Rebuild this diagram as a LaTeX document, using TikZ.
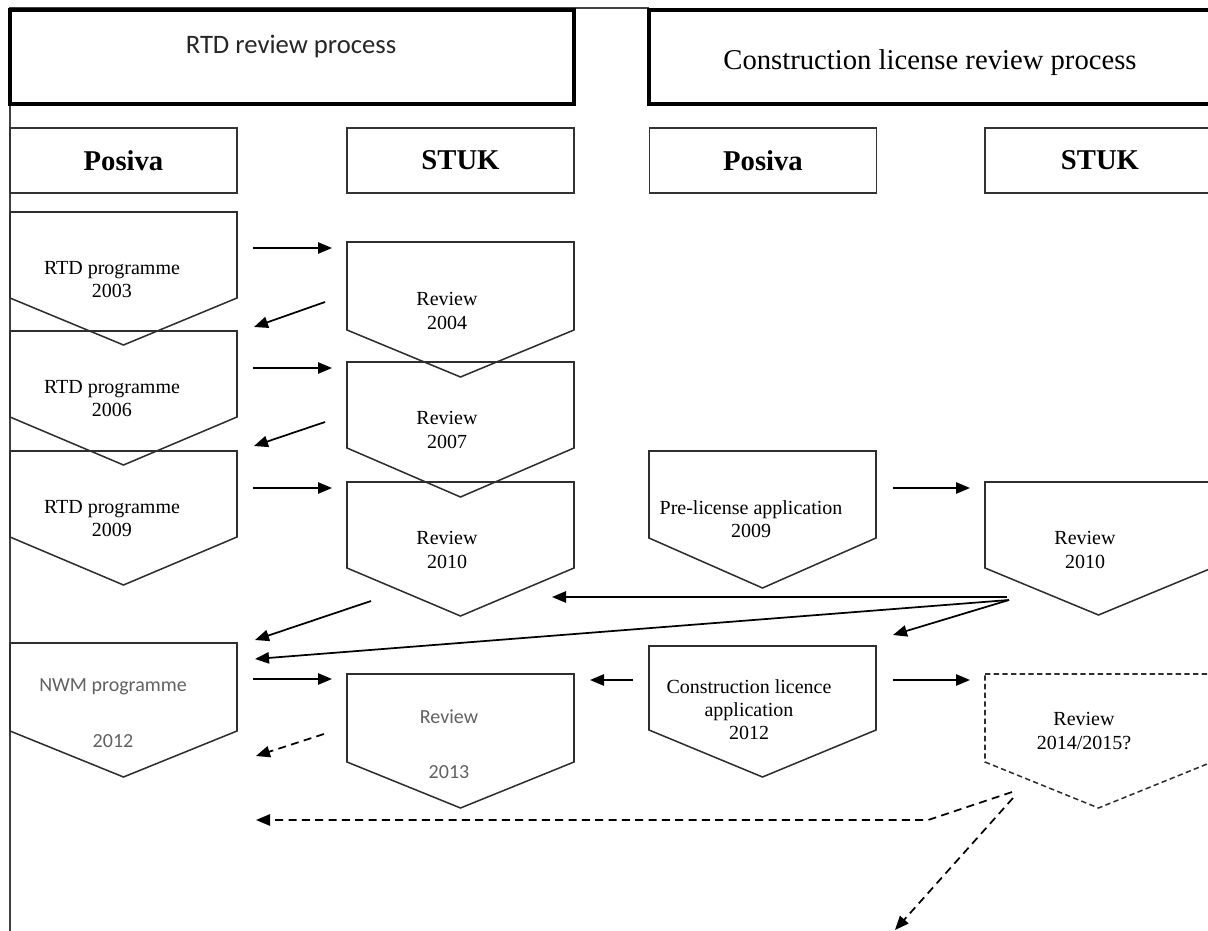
\documentclass[tikz,border=0pt]{standalone}
\usepackage{fontspec}
\setmainfont{Liberation Serif}
\newfontfamily\calfont{Carlito}
\usetikzlibrary{arrows.meta}
\newcommand\pentshape[5][]{%
  \draw[pent,#1] (#2,#3) -- (#2+227,#3) -- (#2+227,#4) -- (#2+113.5,#5) -- (#2,#4) -- cycle;}
\begin{document}
\begin{tikzpicture}[x=0.75pt,y=-0.75pt,
  hbox/.style={draw=black!80, line width=1.1pt, minimum width=170.25pt, minimum height=48.75pt, inner sep=0pt,
     font=\fontsize{21.5}{24}\selectfont\bfseries},
  tbox/.style={draw=black, line width=2.4pt, minimum width=423pt, minimum height=70.5pt, inner sep=0pt},
  pent/.style={draw=black!82, line width=1.15pt},
  lbl/.style={font=\fontsize{15}{17.3}\selectfont, align=center, inner sep=0pt},
  glbl/.style={font=\calfont\fontsize{15}{18}\selectfont, text=black!62, inner sep=0pt},
  arr/.style={-{Triangle[length=10.5pt,width=8.5pt]}, line width=1.3pt},
  darr/.style={arr, dash pattern=on 6pt off 4pt},
]
\useasboundingbox (0,0) rectangle (1208,931);
\clip (0,0) rectangle (1208,931);

% frame lines
\coordinate (ftl) at (10,8);
\coordinate (ftr) at (649,8);
\coordinate (fbl) at (10,931);
\draw[line width=1.1pt, black!75] (fbl) -- (ftl) -- (ftr);

% title boxes
\node[tbox] (rtdproc) at (292,57) {};
\node[font=\calfont\fontsize{20}{22}\selectfont, text=black!85, inner sep=0pt] (rtdproct) at (291,46) {RTD review process};
\node[tbox] (clproc) at (931,57) {};
\node[font=\fontsize{21.5}{24}\selectfont, inner sep=0pt] (clproct) at (930,63) {Construction license review process};

% header boxes
\node[hbox] (posL) at (123.5,160.5) {Posiva};
\node[hbox] (stukL) at (460.5,160.5) {STUK};
\node[hbox] (posR) at (763,160.5) {Posiva};
\node[hbox, minimum width=180pt] (stukR) at (1105,160.5) {};
\node[font=\fontsize{21.5}{24}\selectfont\bfseries, inner sep=0pt] (stukRt) at (1100,160.5) {STUK};

% pentagons
\pentshape{10}{212}{298}{345}
\pentshape{10}{331}{417}{465}
\pentshape{10}{451}{537}{585}
\pentshape{10}{643}{731}{777}
\pentshape{347}{242}{330}{377}
\pentshape{347}{362}{448}{497}
\pentshape{347}{482}{568}{616}
\pentshape{347}{674}{762}{808}
\pentshape{649}{451}{538}{588}
\pentshape{649}{646}{730}{777}
\pentshape{985}{482}{568}{615}
\pentshape[dash pattern=on 4pt off 2.5pt]{985}{674}{762}{808}

% labels
\node[lbl] (t2003) at (112,280) {RTD programme\\2003};
\node[lbl] (t2006) at (112,399) {RTD programme\\2006};
\node[lbl] (t2009) at (112,519) {RTD programme\\2009};
\node[glbl] (tnwm) at (113,687) {NWM programme};
\node[glbl] (tnwmy) at (113,741) {2012};
\node[lbl] (r2004) at (447,311) {Review\\2004};
\node[lbl] (r2007) at (447,430) {Review\\2007};
\node[lbl] (r2010) at (447,550) {Review\\2010};
\node[glbl] (r2013) at (449,717) {Review};
\node[glbl] (r2013y) at (449,772) {2013};
\node[lbl] (pre) at (751,519) {Pre-license application\\2009};
\node[lbl] (cla) at (749,710) {Construction licence\\application\\2012};
\node[lbl] (rr2010) at (1085,550) {Review\\2010};
\node[lbl] (rr2014) at (1084,731) {Review\\2014/2015?};

% arrow end points
\coordinate (a1s) at (253,248);  \coordinate (a1e) at (332,248);
\coordinate (a2s) at (325,302);  \coordinate (a2e) at (254,327);
\coordinate (a3s) at (253,368);  \coordinate (a3e) at (332,368);
\coordinate (a4s) at (325,422);  \coordinate (a4e) at (254,446);
\coordinate (a5s) at (253,488);  \coordinate (a5e) at (332,488);
\coordinate (a6s) at (371,601);  \coordinate (a6e) at (255,640);
\coordinate (hub) at (1009,600);
\coordinate (a7e) at (255,659);
\coordinate (a8s) at (1007,597); \coordinate (a8e) at (552,597);
\coordinate (a9e) at (893,635);
\coordinate (a10s) at (253,679); \coordinate (a10e) at (332,679);
\coordinate (a11s) at (324,734); \coordinate (a11e) at (256,756);
\coordinate (a12s) at (633,680); \coordinate (a12e) at (590,680);
\coordinate (a13s) at (893,680); \coordinate (a13e) at (970,680);
\coordinate (a14s) at (893,488); \coordinate (a14e) at (970,488);
\coordinate (dhub) at (1012,792);
\coordinate (dbend) at (928,820);
\coordinate (a15e) at (256,820);
\coordinate (a16s) at (1013,798); \coordinate (a16e) at (895,930);

\draw[arr] (a1s) -- (a1e);
\draw[arr] (a2s) -- (a2e);
\draw[arr] (a3s) -- (a3e);
\draw[arr] (a4s) -- (a4e);
\draw[arr] (a5s) -- (a5e);
\draw[arr] (a6s) -- (a6e);
\draw[arr] (hub) -- (a7e);
\draw[arr] (a8s) -- (a8e);
\draw[arr] (hub) -- (a9e);
\draw[arr] (a10s) -- (a10e);
\draw[darr] (a11s) -- (a11e);
\draw[arr] (a12s) -- (a12e);
\draw[arr] (a13s) -- (a13e);
\draw[arr] (a14s) -- (a14e);
\draw[darr] (dhub) -- (dbend) -- (a15e);
\draw[darr] (a16s) -- (a16e);
\end{tikzpicture}
\end{document}
